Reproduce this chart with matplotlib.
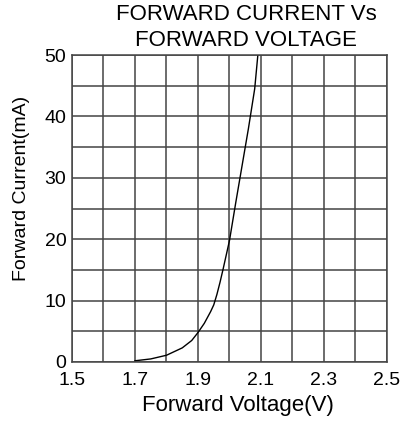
import matplotlib
matplotlib.use('Agg')
import matplotlib.pyplot as plt
import numpy as np

plt.rcParams['font.family'] = ['Liberation Sans', 'DejaVu Sans']

# ---- data ----
volt = [1.70, 1.75, 1.80, 1.85, 1.88, 1.90, 1.92, 1.94, 1.95, 1.96, 1.97,
        1.98, 1.99, 2.00, 2.02, 2.04, 2.06, 2.08, 2.09]
curr = [0.2, 0.5, 1.1, 2.3, 3.5, 4.8, 6.3, 8.2, 9.3, 11.0, 13.0,
        15.2, 17.5, 19.8, 26.0, 32.0, 38.0, 44.5, 50.0]
xticks = [1.5, 1.7, 1.9, 2.1, 2.3, 2.5]
yticks = [0, 10, 20, 30, 40, 50]

W, H = 405, 421
fig = plt.figure(figsize=(W/100, H/100), dpi=100)
ax = fig.add_axes([72/W, 1 - 362/H, (387-72)/W, (362-55)/H])

ax.plot(volt, curr, color='black', lw=1.0)

ax.set_xlim(1.5, 2.5); ax.set_ylim(0, 50)
ax.set_xticks(np.arange(1.5, 2.51, 0.1), minor=True)
ax.set_yticks(np.arange(0, 51, 5), minor=True)
ax.set_xticks(xticks); ax.set_xticklabels([f"{v:.1f}" for v in xticks])
ax.set_yticks(yticks)
ax.grid(True, which='both', color='#444444', lw=1.1)
ax.tick_params(which='both', length=0, labelsize=14)
ax.tick_params(axis='x', pad=7)
ax.tick_params(axis='y', pad=4)
for s in ax.spines.values():
    s.set_color('#444444'); s.set_linewidth(1.1)

# titles / axis labels placed where the datasheet has them
fig.text(246/W, 1 - 15/H, 'FORWARD CURRENT Vs', ha='center', va='center', fontsize=16)
fig.text(246/W, 1 - 40/H, 'FORWARD VOLTAGE', ha='center', va='center', fontsize=16)
fig.text(238/W, 1 - 405/H, 'Forward Voltage(V)', ha='center', va='center', fontsize=16)
fig.text(22/W, 1 - 188/H, 'Forward Current(mA)', ha='center', va='center',
         rotation=90, fontsize=14)

fig.savefig('out.png', dpi=100)
